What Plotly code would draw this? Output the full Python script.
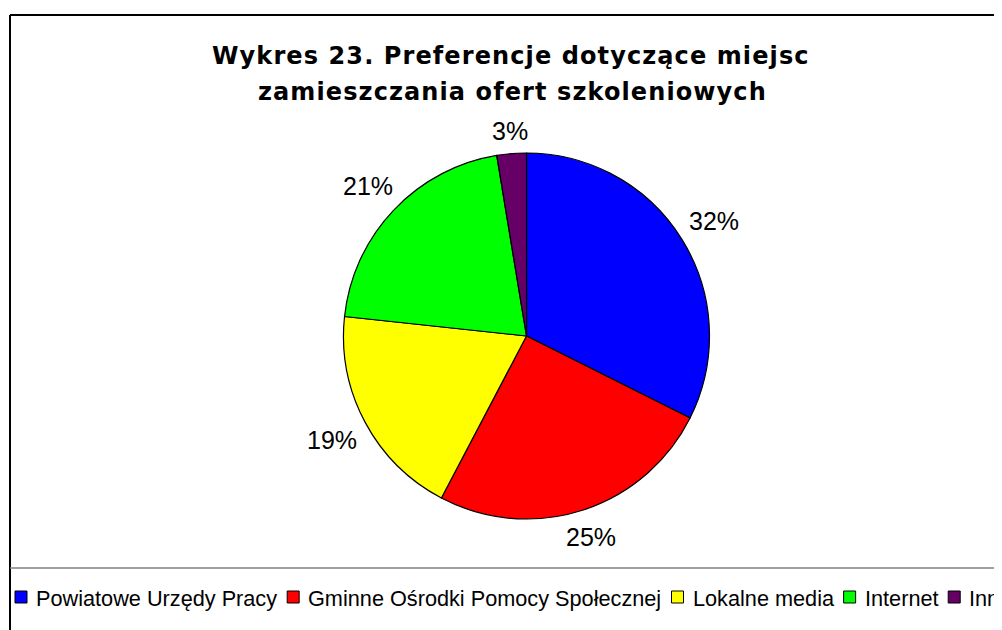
import math
import plotly.graph_objects as go

# ---- data ----
categories = ["Powiatowe Urzędy Pracy", "Gminne Ośrodki Pomocy Społecznej",
              "Lokalne media", "Internet", "Inne"]
values = [32.4, 25.3, 19.0, 20.7, 2.6]
colors = ["#0000FF", "#FF0000", "#FFFF00", "#00FF00", "#660066"]
title_lines = ["Wykres 23. Preferencje dotyczące miejsc",
               "zamieszczania ofert szkoleniowych"]

# ---- layout geometry ----
W, H = 994, 622
OFF = 8  # body margin of the html page
CX, CY, R = 526.5, 336, 183   # page pixels

# Arial / Liberation Sans advance widths (em) for legend text layout
ARIAL = {
    " ": .278, "P": .667, "o": .556, "w": .722, "i": .222, "a": .556, "t": .278,
    "e": .556, "U": .722, "r": .333, "z": .5, "ę": .556, "d": .556, "y": .5,
    "c": .5, "G": .778, "m": .833, "n": .556, "O": .778, "ś": .5, "k": .5,
    "S": .667, "p": .556, "ł": .222, "j": .222, "L": .556, "l": .222, "I": .278,
    "%": .889,
}


def text_w(s, size):
    return sum(ARIAL.get(ch, .556) for ch in s) * size


def px(x):
    return (x - OFF) / W


def py(y):
    return 1 - (y - OFF) / H


fig = go.Figure(go.Pie(
    labels=categories,
    values=values,
    sort=False,
    direction="clockwise",
    rotation=0,
    marker=dict(colors=colors, line=dict(color="black", width=1.2)),
    textinfo="none",
    hoverinfo="label+percent",
    showlegend=False,
    domain=dict(x=[px(CX - R), px(CX + R)], y=[py(CY + R), py(CY - R)]),
))

annotations = []
shapes = []

# percentage labels placed outside each slice
LAB_SIZE = 25
total = sum(values)
cum = 0.0
for v in values:
    mid = (cum + v / 2) / total * 2 * math.pi
    cum += v
    pct = round(v / total * 100)
    txt = f"{pct}%"
    hw = text_w(txt.replace("%", "0"), LAB_SIZE) / 2
    s, c = math.sin(mid), math.cos(mid)
    r = R + 16 + abs(s) * hw + abs(c) * 6
    lx, ly = CX + r * s, CY - r * c
    annotations.append(dict(
        x=px(lx), y=py(ly), xref="paper", yref="paper",
        text=txt, showarrow=False, xanchor="center", yanchor="middle",
        font=dict(family="Liberation Sans, Arial", size=LAB_SIZE, color="black"),
    ))

# title lines
for txt, (tx, ty) in zip(title_lines, [(511, 56), (512, 92)]):
    annotations.append(dict(
        x=px(tx), y=py(ty), xref="paper", yref="paper",
        text=f'<span style="letter-spacing:1.1px">{txt}</span>',
        showarrow=False, xanchor="center", yanchor="middle",
        font=dict(family="DejaVu Sans", size=24, color="black", weight="bold"),
    ))

# frame and legend separator
shapes.append(dict(type="line", xref="paper", yref="paper",
                   x0=px(10), x1=px(W + 40), y0=py(15), y1=py(15),
                   line=dict(color="black", width=2)))
shapes.append(dict(type="line", xref="paper", yref="paper",
                   x0=px(10), x1=px(10), y0=py(15), y1=py(H + 40),
                   line=dict(color="black", width=2)))
shapes.append(dict(type="line", xref="paper", yref="paper",
                   x0=px(10), x1=px(W + 40), y0=py(568), y1=py(568),
                   line=dict(color="#808080", width=1.5)))

# legend row (single line, running past the right edge as in the original)
LEG_SIZE = 21.7
pos = 15
ly = 597
for name, col in zip(categories, colors):
    shapes.append(dict(type="rect", xref="paper", yref="paper",
                       x0=px(pos), x1=px(pos + 12), y0=py(ly + 6), y1=py(ly - 6),
                       fillcolor=col, line=dict(color="black", width=1)))
    tl = pos + 21
    annotations.append(dict(
        x=px(tl - 2), y=py(ly + 1), xref="paper", yref="paper",
        text=name, showarrow=False, xanchor="left", yanchor="middle",
        font=dict(family="Liberation Sans, Arial", size=LEG_SIZE, color="black"),
    ))
    pos = tl + text_w(name, LEG_SIZE) + 10

fig.update_layout(
    width=W, height=H,
    margin=dict(l=0, r=0, t=0, b=0),
    paper_bgcolor="white", plot_bgcolor="white",
    annotations=annotations,
    shapes=shapes,
    showlegend=False,
)

fig.write_html("out.html")
